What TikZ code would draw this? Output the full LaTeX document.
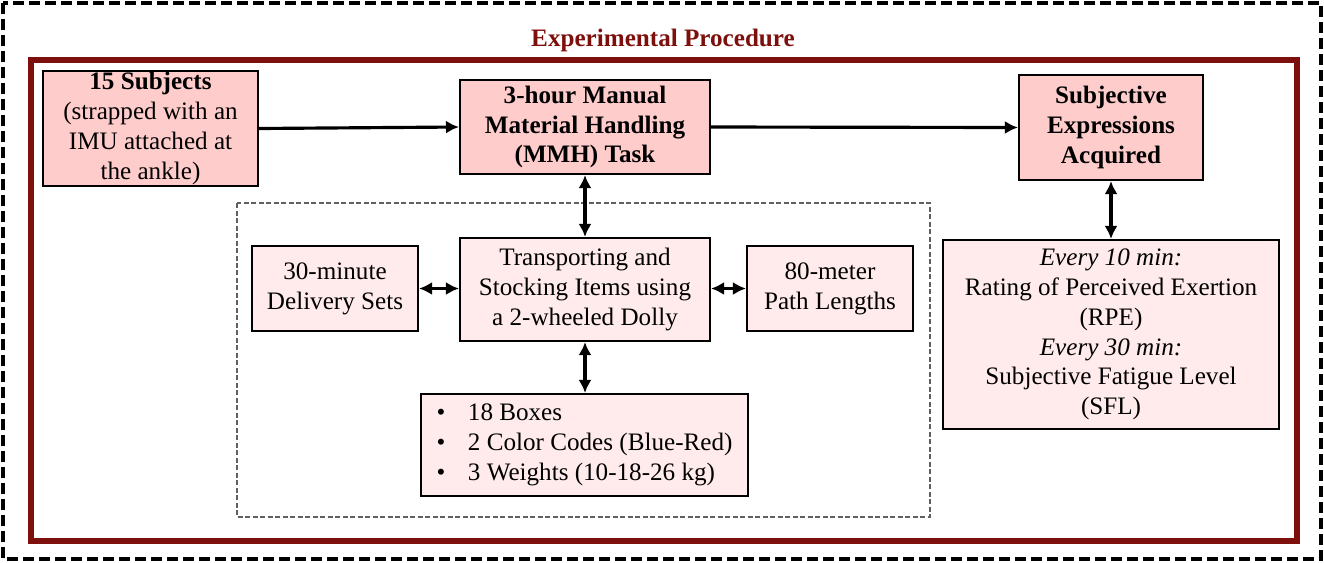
\documentclass[tikz,border=0pt]{standalone}
\usepackage{fontspec}
\setmainfont{Liberation Serif}
\usetikzlibrary{arrows.meta}
\definecolor{procred}{RGB}{125,16,12}
\definecolor{darkpink}{RGB}{255,204,204}
\definecolor{lightpink}{RGB}{255,235,235}
\tikzset{
  mainbox/.style={draw=black,line width=1.2pt,fill=darkpink,inner sep=0pt,align=center,font=\fontsize{14.3}{17}\selectfont\bfseries},
  subbox/.style={draw=black,line width=1.2pt,fill=lightpink,inner sep=0pt,align=center,font=\fontsize{14.3}{17}\selectfont},
  tip/.style={Latex[length=0.26cm,width=0.26cm]},
  flow/.style={-{Latex[length=0.26cm,width=0.26cm]},line width=1.8pt},
  both/.style={{Latex[length=0.26cm,width=0.26cm]}-{Latex[length=0.26cm,width=0.26cm]},line width=1.8pt}
}
\begin{document}
\begin{tikzpicture}[x=0.02cm,y=-0.02cm]
\useasboundingbox (0,0) rectangle (1324,562);
% frames
\draw[line width=2.3pt,dash pattern=on 0.22cm off 0.1cm] (3,3) rectangle (1321,559);
\draw[procred,line width=3.4pt] (31,60) rectangle (1297,541);
\draw[gray!75!black,line width=0.6pt,dash pattern=on 0.1cm off 0.05cm] (237,203) rectangle (930,517);
\node (title) at (663,40) {\fontsize{14.3}{17}\selectfont\bfseries\color{procred}Experimental Procedure};

% main row
\node[mainbox,minimum width=4.3cm,minimum height=2.3cm] (subj) at (150.5,128.5)
  {15 Subjects\\\mdseries(strapped with an\\\mdseries IMU attached at\\\mdseries the ankle)};
\node[mainbox,minimum width=5cm,minimum height=1.88cm] (mmh) at (585,127)
  {3-hour Manual\\Material Handling\\(MMH) Task};
\node[mainbox,minimum width=3.68cm,minimum height=2.1cm] (sea) at (1111,127.5)
  {Subjective\\Expressions\\Acquired};

% task details
\node[subbox,minimum width=5cm,minimum height=2.06cm] (trans) at (585,289.5)
  {Transporting and\\Stocking Items using\\a 2-wheeled Dolly};
\node[subbox,minimum width=3.32cm,minimum height=1.7cm] (sets) at (335,288.5)
  {30-minute\\Delivery Sets};
\node[subbox,minimum width=3.32cm,minimum height=1.7cm] (path) at (830,288.5)
  {80-meter\\Path Lengths};
\node[subbox,minimum width=6.54cm,minimum height=2.04cm,align=left] (boxes) at (584.5,445)
  {\textbullet\hspace{0.9em}18 Boxes\\
   \textbullet\hspace{0.9em}2 Color Codes (Blue-Red)\\
   \textbullet\hspace{0.9em}3 Weights (10-18-26 kg)};

% ratings
\node[subbox,minimum width=6.72cm,minimum height=3.78cm] (rate) at (1111,334.5)
  {\itshape Every 10 min:\\Rating of Perceived Exertion\\(RPE)\\\itshape Every 30 min:\\Subjective Fatigue Level\\(SFL)};

% connectors
\draw[flow] (subj.east) -- (mmh.west);
\draw[flow] (mmh.east) -- (sea.west);
\draw[both] (mmh.south) -- (trans.north);
\draw[both] (sea.south) -- (rate.north);
\draw[both] (sets.east) -- (trans.west |- sets.east);
\draw[both] (trans.east |- path.west) -- (path.west);
\draw[both] (trans.south) -- (boxes.north -| trans.south);
\end{tikzpicture}
\end{document}
